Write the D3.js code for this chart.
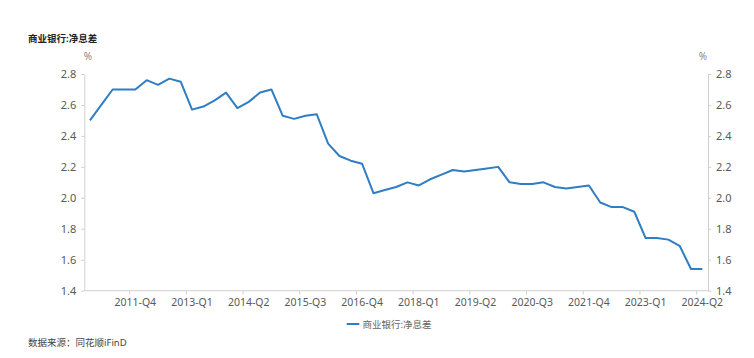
<!DOCTYPE html>
<html><head><meta charset="utf-8">
<script src="https://cdn.jsdelivr.net/npm/d3@7"></script>
<style>
html,body{margin:0;padding:0;background:#fff;}
svg{display:block;font-family:"Noto Sans","Noto Sans CJK SC",sans-serif;}
</style></head>
<body>
<svg id="c" width="754" height="358"></svg>
<script>
const categories = [
  "2010-Q4",
  "2011-Q1","2011-Q2","2011-Q3","2011-Q4",
  "2012-Q1","2012-Q2","2012-Q3","2012-Q4",
  "2013-Q1","2013-Q2","2013-Q3","2013-Q4",
  "2014-Q1","2014-Q2","2014-Q3","2014-Q4",
  "2015-Q1","2015-Q2","2015-Q3","2015-Q4",
  "2016-Q1","2016-Q2","2016-Q3","2016-Q4",
  "2017-Q1","2017-Q2","2017-Q3","2017-Q4",
  "2018-Q1","2018-Q2","2018-Q3","2018-Q4",
  "2019-Q1","2019-Q2","2019-Q3","2019-Q4",
  "2020-Q1","2020-Q2","2020-Q3","2020-Q4",
  "2021-Q1","2021-Q2","2021-Q3","2021-Q4",
  "2022-Q1","2022-Q2","2022-Q3","2022-Q4",
  "2023-Q1","2023-Q2","2023-Q3","2023-Q4",
  "2024-Q1","2024-Q2"
];
const nimValues = [
  2.50,
  2.60, 2.70, 2.70, 2.70,
  2.76, 2.73, 2.77, 2.75,
  2.57, 2.59, 2.63, 2.68,
  2.58, 2.62, 2.68, 2.70,
  2.53, 2.51, 2.53, 2.54,
  2.35, 2.27, 2.24, 2.22,
  2.03, 2.05, 2.07, 2.10,
  2.08, 2.12, 2.15, 2.18,
  2.17, 2.18, 2.19, 2.20,
  2.10, 2.09, 2.09, 2.10,
  2.07, 2.06, 2.07, 2.08,
  1.97, 1.94, 1.94, 1.91,
  1.74, 1.74, 1.73, 1.69,
  1.54, 1.54
];
const yTicks = [1.4, 1.6, 1.8, 2.0, 2.2, 2.4, 2.6, 2.8];
const xTickLabels = ["2011-Q4","2013-Q1","2014-Q2","2015-Q3","2016-Q4","2018-Q1","2019-Q2","2020-Q3","2021-Q4","2023-Q1","2024-Q2"];
const title = "商业银行:净息差";
const seriesName = "商业银行:净息差";
const source = "数据来源：同花顺iFinD";

const svg = d3.select("#c");
const mLeft = 84.3, mRight = 708, mTop = 74, mBottom = 290.7;
const lineColor = "#2f7dc5", axisColor = "#d0d0d0", labelColor = "#595959";

const x = d3.scaleBand().domain(categories).range([mLeft, mRight]).padding(0);
const y = d3.scaleLinear().domain([1.4, 2.8]).range([mBottom, mTop]);

// title
svg.append("text").attr("x", 28).attr("y", 42).attr("font-size", 9.5).attr("font-weight", "bold")
  .attr("fill", "#222").text(title);

// unit labels
svg.append("text").attr("x", 88).attr("y", 60).attr("text-anchor", "middle").attr("font-size", 10).attr("fill", "#888").text("%");
svg.append("text").attr("x", 703).attr("y", 60).attr("text-anchor", "middle").attr("font-size", 10).attr("fill", "#888").text("%");

// left axis
const gl = svg.append("g").attr("transform", `translate(${mLeft},0)`)
  .call(d3.axisLeft(y).tickValues(yTicks).tickFormat(d3.format(".1f")).tickSize(3).tickSizeOuter(0).tickPadding(5));
// right axis
const gr = svg.append("g").attr("transform", `translate(${mRight},0)`)
  .call(d3.axisRight(y).tickValues(yTicks).tickFormat(d3.format(".1f")).tickSize(3).tickSizeOuter(0).tickPadding(5));
[gl, gr].forEach(g => {
  g.select(".domain").attr("stroke", axisColor);
  g.selectAll(".tick line").attr("stroke", axisColor);
  g.selectAll(".tick text").attr("fill", labelColor).attr("font-size", 11).attr("font-family", '"Noto Sans",sans-serif');
});

// x axis
const xLabelSet = new Set(xTickLabels);
const gx = svg.append("g").attr("transform", `translate(0,${mBottom})`);
gx.append("line").attr("x1", mLeft).attr("x2", mRight).attr("y1", 0).attr("y2", 0).attr("stroke", axisColor);
categories.forEach(c => {
  if (!xLabelSet.has(c)) return;
  gx.append("line").attr("x1", x(c)).attr("x2", x(c)).attr("y1", 0).attr("y2", 4).attr("stroke", axisColor);
  gx.append("text").attr("x", x(c) + x.bandwidth() / 2).attr("y", 15).attr("text-anchor", "middle")
    .attr("font-size", 10.5).attr("fill", labelColor).text(c);
});

// line
const line = d3.line().x((d, i) => x(categories[i]) + x.bandwidth() / 2).y(d => y(d));
svg.append("path").datum(nimValues).attr("d", line).attr("fill", "none")
  .attr("stroke", lineColor).attr("stroke-width", 2).attr("stroke-linejoin", "round");

// legend
svg.append("line").attr("x1", 346.7).attr("x2", 359.3).attr("y1", 324).attr("y2", 324)
  .attr("stroke", lineColor).attr("stroke-width", 2);
svg.append("text").attr("x", 362.5).attr("y", 327.5).attr("font-size", 9.5).attr("fill", "#666").text(seriesName);

// source
svg.append("text").attr("x", 28).attr("y", 346).attr("font-size", 9.5).attr("fill", "#444").text(source);
</script>
</body></html>
